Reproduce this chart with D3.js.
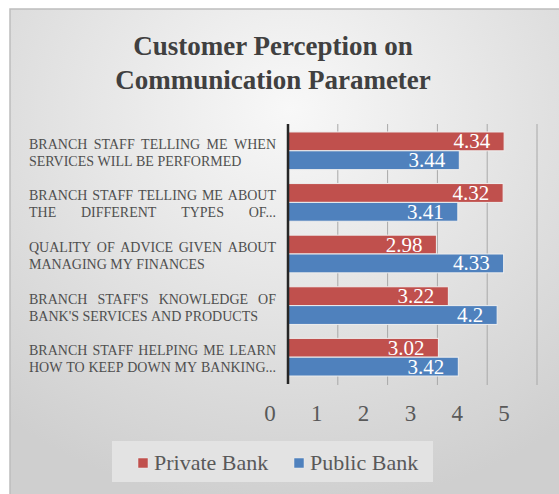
<!DOCTYPE html>
<html>
<head>
<meta charset="utf-8">
<script src="https://cdn.jsdelivr.net/npm/d3@7"></script>
<style>
  body { margin: 0; background: #fff; }
  svg { display: block; }
</style>
</head>
<body>
<svg id="chart" width="559" height="494"></svg>
<script>
var categories = [
    "BRANCH STAFF TELLING ME WHEN|SERVICES WILL BE PERFORMED",
    "BRANCH STAFF TELLING ME ABOUT|THE DIFFERENT TYPES OF...",
    "QUALITY OF ADVICE GIVEN ABOUT|MANAGING MY FINANCES",
    "BRANCH STAFF'S KNOWLEDGE OF|BANK'S SERVICES AND PRODUCTS",
    "BRANCH STAFF HELPING ME LEARN|HOW TO KEEP DOWN MY BANKING..."
];
var seriesNames = ["Private Bank", "Public Bank"];
var privateBank = [4.34, 4.32, 2.98, 3.22, 3.02];
var publicBank = [3.44, 3.41, 4.33, 4.2, 3.42];
var tickValues = [0, 1, 2, 3, 4, 5];
var colors = ["#c0504d", "#4f81bd"];

var svg = d3.select("#chart");
var serif = "'Liberation Serif', 'DejaVu Serif', serif";

// background panel with soft radial gradient
var defs = svg.append("defs");
var grad = defs.append("radialGradient").attr("id", "bg")
    .attr("cx", "50%").attr("cy", "20%").attr("r", "80%");
grad.append("stop").attr("offset", "0%").attr("stop-color", "#f8f8f8");
grad.append("stop").attr("offset", "100%").attr("stop-color", "#cfcfcf");

svg.append("rect").attr("x", 10).attr("y", 9).attr("width", 560).attr("height", 500)
    .attr("fill", "url(#bg)").attr("stroke", "#bdbdbd").attr("stroke-width", 1.5);

// title
svg.append("text").attr("x", 273).attr("y", 0)
    .attr("text-anchor", "middle")
    .style("font-family", serif).style("font-weight", "bold").style("font-size", "27px")
    .attr("fill", "#404040")
    .selectAll("tspan").data(["Customer Perception on", "Communication Parameter"])
    .enter().append("tspan").attr("x", 273).attr("y", (d, i) => 55 + i * 34).text(d => d);

var x = d3.scaleLinear().domain([0, 5]).range([288, 537]);
var xLabel = d3.scaleLinear().domain([0, 5]).range([270, 504]);
var y = d3.scaleBand().domain(d3.range(categories.length)).range([125, 383])
    .paddingInner(0.27).paddingOuter(0.135);
var ys = d3.scaleBand().domain(seriesNames).range([0, y.bandwidth()]);

// gridlines
svg.append("g").selectAll("line").data(tickValues.slice(1)).enter().append("line")
    .attr("x1", d => x(d)).attr("x2", d => x(d))
    .attr("y1", 124).attr("y2", 385)
    .attr("stroke", "#a8a8a8").attr("stroke-width", 1);

// bars
var rows = categories.map((c, i) => ({ i: i, values: [privateBank[i], publicBank[i]] }));
var grp = svg.append("g").selectAll("g").data(rows).enter().append("g")
    .attr("transform", d => "translate(0," + y(d.i) + ")");

grp.selectAll("rect").data(d => d.values.map((v, k) => ({ v: v, k: k })))
    .enter().append("rect")
    .attr("x", x(0))
    .attr("y", d => ys(seriesNames[d.k]))
    .attr("width", d => x(d.v) - x(0))
    .attr("height", ys.bandwidth())
    .attr("fill", d => colors[d.k])
    .attr("stroke", "#eeeeee").attr("stroke-width", 1);

grp.selectAll("text").data(d => d.values.map((v, k) => ({ v: v, k: k })))
    .enter().append("text")
    .attr("x", d => x(d.v) - 14)
    .attr("y", d => ys(seriesNames[d.k]) + ys.bandwidth() / 2 + 7)
    .attr("text-anchor", "end")
    .style("font-family", serif).style("font-size", "21px")
    .attr("fill", "#ffffff")
    .text(d => d.v);

// vertical axis line
svg.append("line").attr("x1", x(0)).attr("x2", x(0)).attr("y1", 124).attr("y2", 384)
    .attr("stroke", "#262626").attr("stroke-width", 2.5);

// category labels, justified like the original
var labelLeft = 29, labelRight = 276;
categories.forEach(function(c, i) {
    var lines = c.split("|");
    lines.forEach(function(line, li) {
        var baseY = y(i) + y.bandwidth() / 2 - 2 + li * 17;
        var words = line.split(" ");
        var justify = li === 0 || /\.\.\.$/.test(line);
        var g = svg.append("g");
        var nodes = words.map(w => g.append("text")
            .attr("y", baseY)
            .style("font-family", serif).style("font-size", "14px")
            .attr("fill", "#4f4f4f").text(w));
        var widths = nodes.map(n => n.node().getComputedTextLength());
        var total = d3.sum(widths);
        var gap = justify && words.length > 1 ? (labelRight - labelLeft - total) / (words.length - 1) : 3.5;
        var cx = labelLeft;
        nodes.forEach(function(n, k) { n.attr("x", cx); cx += widths[k] + gap; });
    });
});

// x tick labels
svg.append("g").selectAll("text").data(tickValues).enter().append("text")
    .attr("x", d => xLabel(d)).attr("y", 421)
    .attr("text-anchor", "middle")
    .style("font-family", serif).style("font-size", "23px")
    .attr("fill", "#595959").text(d => d);

// legend
var lg = svg.append("g");
lg.append("rect").attr("x", 112).attr("y", 441).attr("width", 321).attr("height", 41).attr("fill", "#e3e3e3");
var legendX = [138, 294];
seriesNames.forEach(function(s, k) {
    lg.append("rect").attr("x", legendX[k]).attr("y", 458).attr("width", 10).attr("height", 10)
        .attr("fill", colors[k]).attr("stroke", "#eeeeee").attr("stroke-width", 0.5);
    lg.append("text").attr("x", legendX[k] + 16).attr("y", 470)
        .style("font-family", serif).style("font-size", "22px")
        .attr("fill", "#595959").text(s);
});
</script>
</body>
</html>
